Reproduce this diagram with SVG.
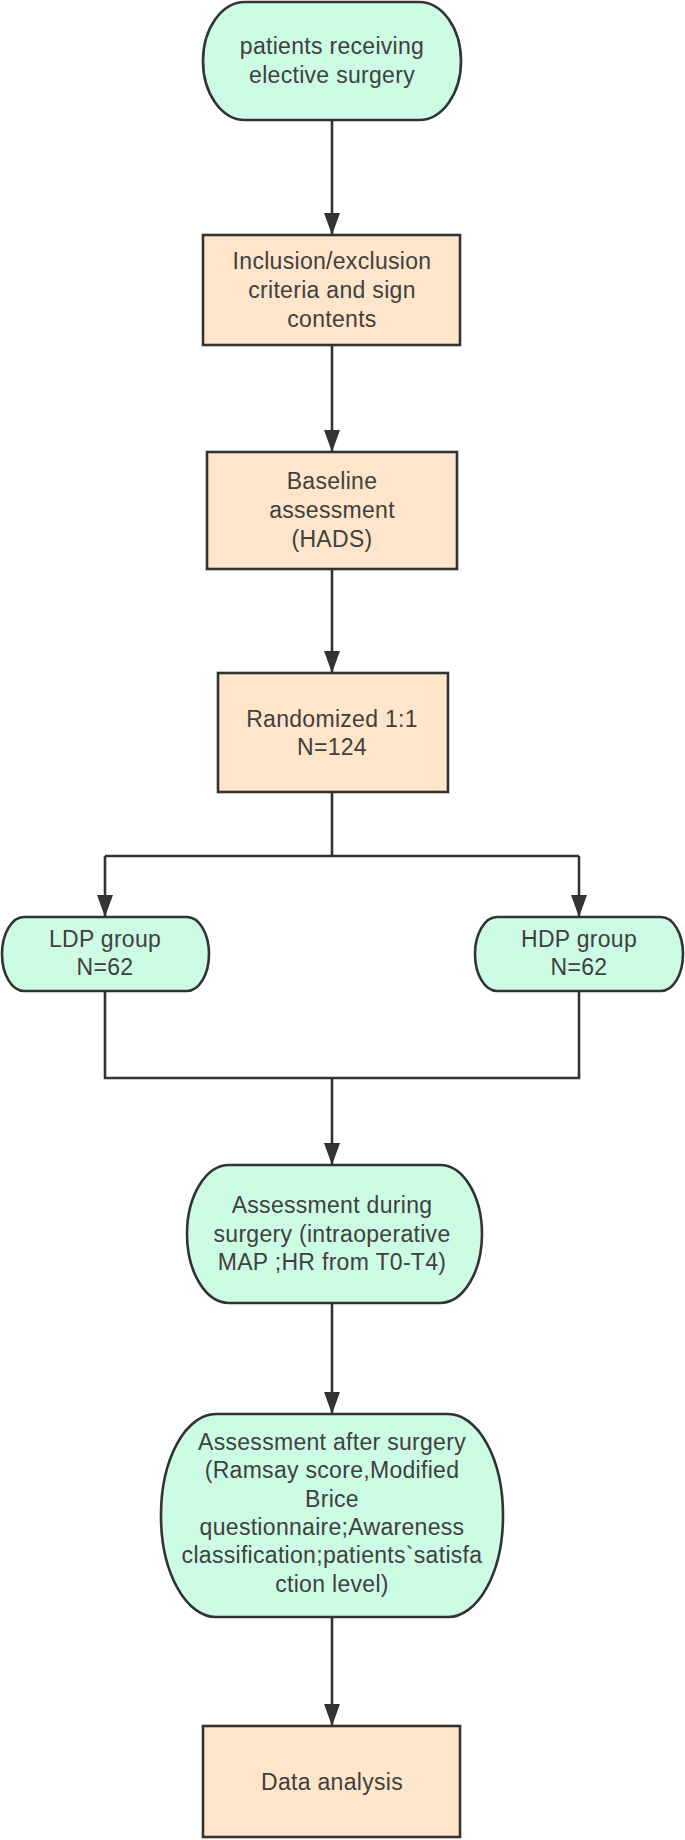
<svg xmlns="http://www.w3.org/2000/svg" width="685" height="1840" viewBox="0 0 685 1840">
<style>
.pill{fill:#CCFCE4;stroke:#333;stroke-width:2.6}
.box{fill:#FFE5CA;stroke:#333;stroke-width:2.6}
.t{font-family:"Liberation Sans",Arial,sans-serif;font-size:23px;letter-spacing:0.3px;fill:#404040;text-anchor:middle}
.c{fill:none;stroke:#333;stroke-width:2.6}
</style>
<defs>
<marker id="ah" viewBox="0 0 22 16" refX="22" refY="8" markerUnits="userSpaceOnUse" markerWidth="22" markerHeight="16" orient="auto">
<path d="M0,0 L22,8 L0,16 z" fill="#333"/>
</marker>
</defs>
<rect width="685" height="1840" fill="#fff"/>
<g id="connectors">
<path class="c" d="M332,120 V235" marker-end="url(#ah)"/>
<path class="c" d="M332,345 V452" marker-end="url(#ah)"/>
<path class="c" d="M332,569 V673" marker-end="url(#ah)"/>
<path class="c" d="M332,792 V856"/>
<path class="c" d="M105,856 H579"/>
<path class="c" d="M105,856 V917" marker-end="url(#ah)"/>
<path class="c" d="M579,856 V917" marker-end="url(#ah)"/>
<path class="c" d="M105,991 V1078 H579 V991"/>
<path class="c" d="M332,1078 V1165" marker-end="url(#ah)"/>
<path class="c" d="M332,1303 V1414" marker-end="url(#ah)"/>
<path class="c" d="M332,1617 V1726" marker-end="url(#ah)"/>
</g>
<g id="start">
<rect class="pill" x="203" y="2" width="258" height="118" rx="42" ry="59"/>
<text class="t" x="332" y="54">patients receiving</text>
<text class="t" x="332" y="83">elective surgery</text>
</g>
<g id="criteria">
<rect class="box" x="203" y="235" width="257" height="110"/>
<text class="t" x="332" y="269">Inclusion/exclusion</text>
<text class="t" x="332" y="298">criteria and sign</text>
<text class="t" x="332" y="327">contents</text>
</g>
<g id="baseline">
<rect class="box" x="207" y="452" width="250" height="117"/>
<text class="t" x="332" y="489">Baseline</text>
<text class="t" x="332" y="518">assessment</text>
<text class="t" x="332" y="547">(HADS)</text>
</g>
<g id="randomized">
<rect class="box" x="218" y="673" width="230" height="119"/>
<text class="t" x="332" y="727">Randomized 1:1</text>
<text class="t" x="332" y="755">N=124</text>
</g>
<g id="ldp">
<rect class="pill" x="2" y="917" width="207" height="74" rx="22" ry="37"/>
<text class="t" x="105" y="947">LDP group</text>
<text class="t" x="105" y="975">N=62</text>
</g>
<g id="hdp">
<rect class="pill" x="475" y="917" width="208" height="74" rx="22" ry="37"/>
<text class="t" x="579" y="947">HDP group</text>
<text class="t" x="579" y="975">N=62</text>
</g>
<g id="during">
<rect class="pill" x="187" y="1165" width="295" height="138" rx="42" ry="69"/>
<text class="t" x="332" y="1213">Assessment during</text>
<text class="t" x="332" y="1242">surgery (intraoperative</text>
<text class="t" x="332" y="1270">MAP ;HR from T0-T4)</text>
</g>
<g id="after">
<rect class="pill" x="161" y="1414" width="342" height="203" rx="55" ry="101"/>
<text class="t" x="332" y="1450">Assessment after surgery</text>
<text class="t" x="332" y="1478">(Ramsay score,Modified</text>
<text class="t" x="332" y="1507">Brice</text>
<text class="t" x="332" y="1535">questionnaire;Awareness</text>
<text class="t" x="332" y="1563">classification;patients`satisfa</text>
<text class="t" x="332" y="1592">ction level)</text>
</g>
<g id="analysis">
<rect class="box" x="203" y="1726" width="257" height="111"/>
<text class="t" x="332" y="1790">Data analysis</text>
</g>
</svg>
